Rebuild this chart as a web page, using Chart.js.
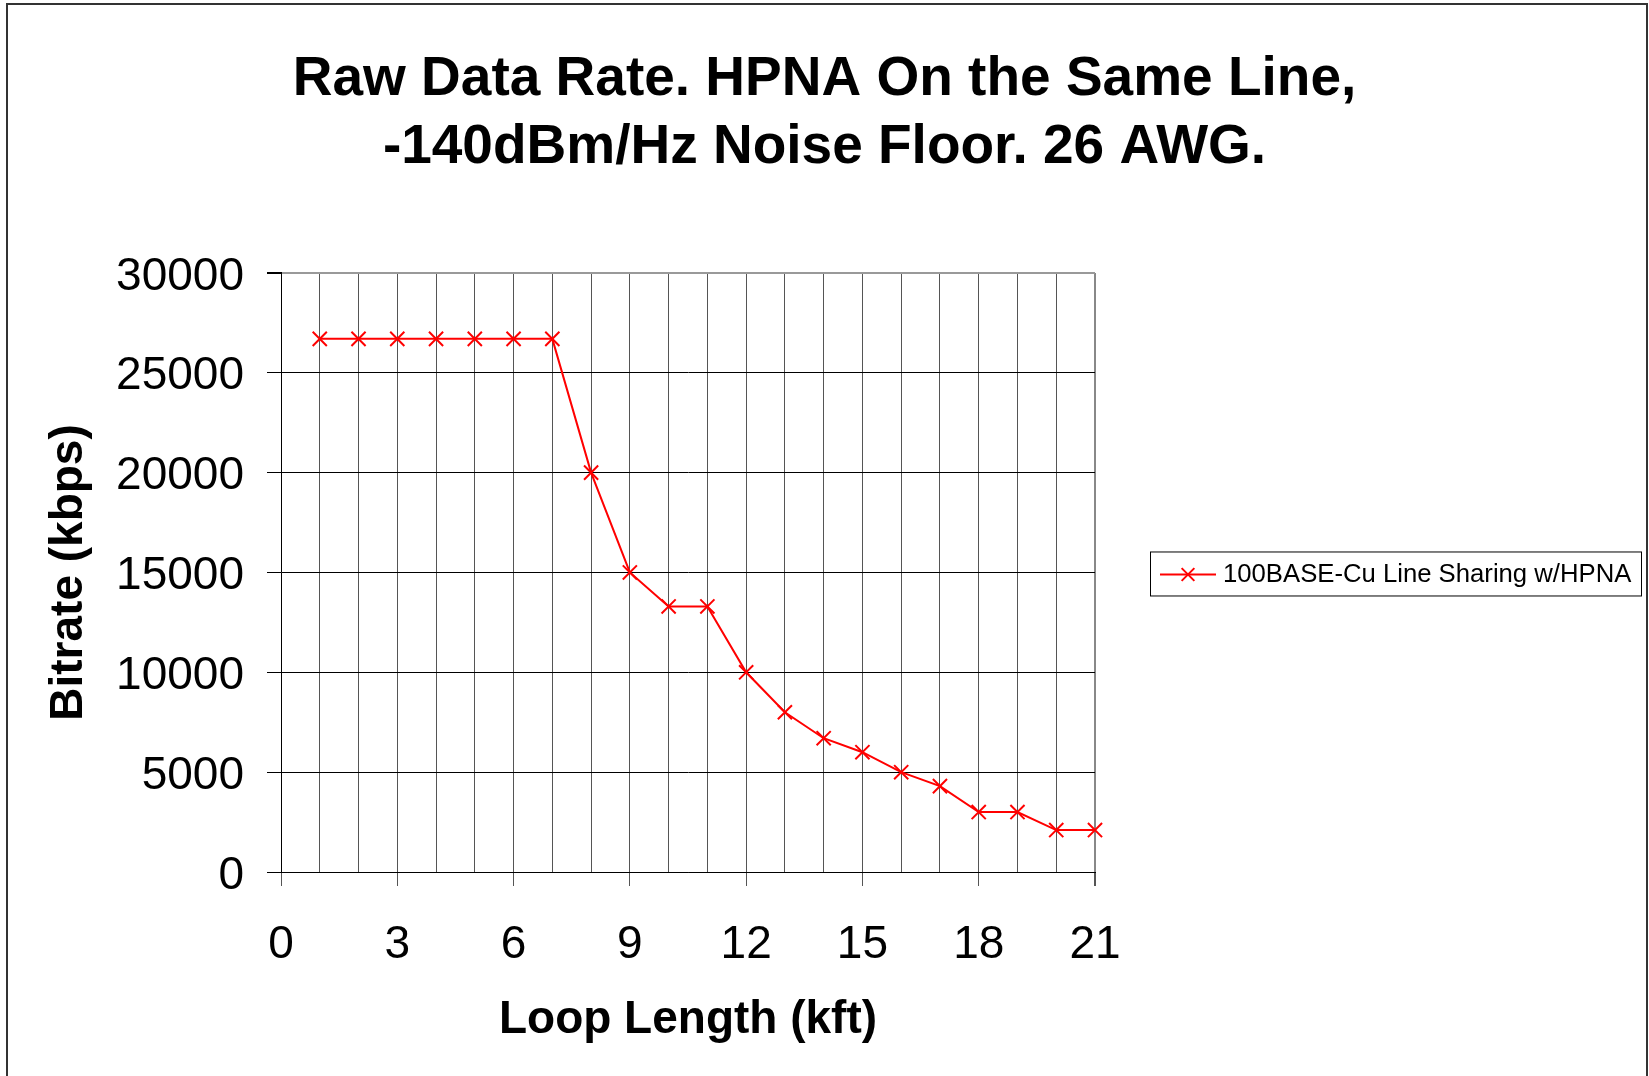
<!DOCTYPE html>
<html>
<head>
<meta charset="utf-8">
<script src="https://cdn.jsdelivr.net/npm/chart.js@4/dist/chart.umd.min.js"></script>
<style>
  html, body { margin: 0; padding: 0; background: #fff; overflow: hidden; }
  canvas { display: block; }
</style>
</head>
<body>
<canvas id="chart" width="1649" height="1076"></canvas>
<script>
// data
const loopLength = [1, 2, 3, 4, 5, 6, 7, 8, 9, 10, 11, 12, 13, 14, 15, 16, 17, 18, 19, 20, 21];
const bitrate = [26700, 26700, 26700, 26700, 26700, 26700, 26700, 20000, 15000, 13300, 13300,
                 10000, 8000, 6700, 6000, 5000, 4300, 3000, 3000, 2100, 2100];
const seriesName = '100BASE-Cu Line Sharing w/HPNA';
const titleLines = ['Raw Data Rate. HPNA On the Same Line,', '-140dBm/Hz Noise Floor. 26 AWG.'];
const xTitle = 'Loop Length (kft)';
const yTitle = 'Bitrate (kbps)';
const xLabelStep = 3;

const FONT = "'Liberation Sans', Arial, sans-serif";
const RED = '#ff0000';

// outer frame + boxed legend (Excel style)
const framePlugin = {
    id: 'frame',
    beforeDraw(chart) {
        const c = chart.ctx;
        c.save();
        c.strokeStyle = '#333';
        c.lineWidth = 2;
        c.strokeRect(7, 4, 1640, 1100);
        c.restore();
    },
    afterDraw(chart) {
        const c = chart.ctx;
        const area = chart.chartArea;
        const ds = chart.data.datasets[0];
        const x = area.right + 55, h = 44, w = 491;
        const y = (area.top + area.bottom) / 2 - h / 2 + 1;
        c.save();
        c.strokeStyle = '#000';
        c.lineWidth = 1;
        c.strokeRect(x + 0.5, y + 0.5, w, h);
        const cy = y + h / 2 + 1;
        c.strokeStyle = ds.borderColor;
        c.lineWidth = 2;
        c.beginPath();
        c.moveTo(x + 10, cy);
        c.lineTo(x + 66, cy);
        c.stroke();
        Chart.helpers.drawPoint(c, { pointStyle: 'crossRot', radius: 9, borderWidth: 2 }, x + 38, cy);
        c.fillStyle = '#000';
        c.font = '25.7px ' + FONT;
        c.textBaseline = 'middle';
        c.fillText(ds.label, x + 73, cy);
        c.restore();
    }
};

new Chart(document.getElementById('chart').getContext('2d'), {
    type: 'line',
    data: {
        datasets: [{
            label: seriesName,
            data: loopLength.map((d, i) => ({ x: d, y: bitrate[i] })),
            borderColor: RED,
            borderWidth: 2,
            pointStyle: 'crossRot',
            pointRadius: 10,
            pointBorderColor: RED,
            pointBorderWidth: 2,
            pointBackgroundColor: RED,
            tension: 0,
            clip: false
        }]
    },
    options: {
        responsive: false,
        animation: false,
        layout: { padding: 0 },
        plugins: {
            legend: { display: false },
            tooltip: { enabled: false },
            title: {
                display: true,
                text: titleLines,
                color: '#000',
                font: { family: FONT, size: 55, weight: 'bold', lineHeight: 1.236 },
                padding: { top: 46, bottom: 91 }
            }
        },
        scales: {
            x: {
                type: 'linear',
                min: 0,
                max: 21,
                ticks: {
                    stepSize: 1,
                    color: '#000',
                    padding: 32,
                    maxRotation: 0,
                    autoSkip: false,
                    font: { family: FONT, size: 46 },
                    callback: v => (v % xLabelStep === 0 ? String(v) : '')
                },
                grid: {
                    color: ctx => (ctx.index === 21 ? '#888' : '#555'),
                    lineWidth: ctx => (ctx.index === 21 ? 2 : 1),
                    tickLength: 14,
                    tickColor: ctx => (ctx.tick && ctx.tick.value % xLabelStep === 0 ? '#555' : 'rgba(0,0,0,0)')
                },
                border: { color: '#000', width: 1 },
                title: {
                    display: true,
                    text: xTitle,
                    color: '#000',
                    font: { family: FONT, size: 46, weight: 'bold' },
                    padding: { top: 0, bottom: 28 }
                },
                afterFit: s => { s.height = 204; }
            },
            y: {
                min: 0,
                max: 30000,
                ticks: {
                    stepSize: 5000,
                    color: '#000',
                    padding: 23,
                    labelOffset: 4,
                    font: { family: FONT, size: 46 },
                    callback: v => String(v)
                },
                grid: {
                    color: ctx => (ctx.index === 6 ? '#999' : '#000'),
                    lineWidth: ctx => (ctx.index === 6 ? 2 : 1),
                    tickLength: 14,
                    tickColor: '#000'
                },
                border: { color: '#000', width: 1 },
                title: {
                    display: true,
                    text: yTitle,
                    color: '#000',
                    font: { family: FONT, size: 46, weight: 'bold' },
                    padding: { top: 42, bottom: 0 }
                },
                afterFit: s => { s.width = 281; }
            },
            // empty right-hand scale that reserves the space holding the legend
            spacer: {
                type: 'linear',
                position: 'right',
                display: true,
                ticks: { display: false },
                grid: { display: false, drawTicks: false },
                border: { display: false },
                afterFit: s => { s.width = 554; }
            }
        }
    },
    plugins: [framePlugin]
});
</script>
</body>
</html>
